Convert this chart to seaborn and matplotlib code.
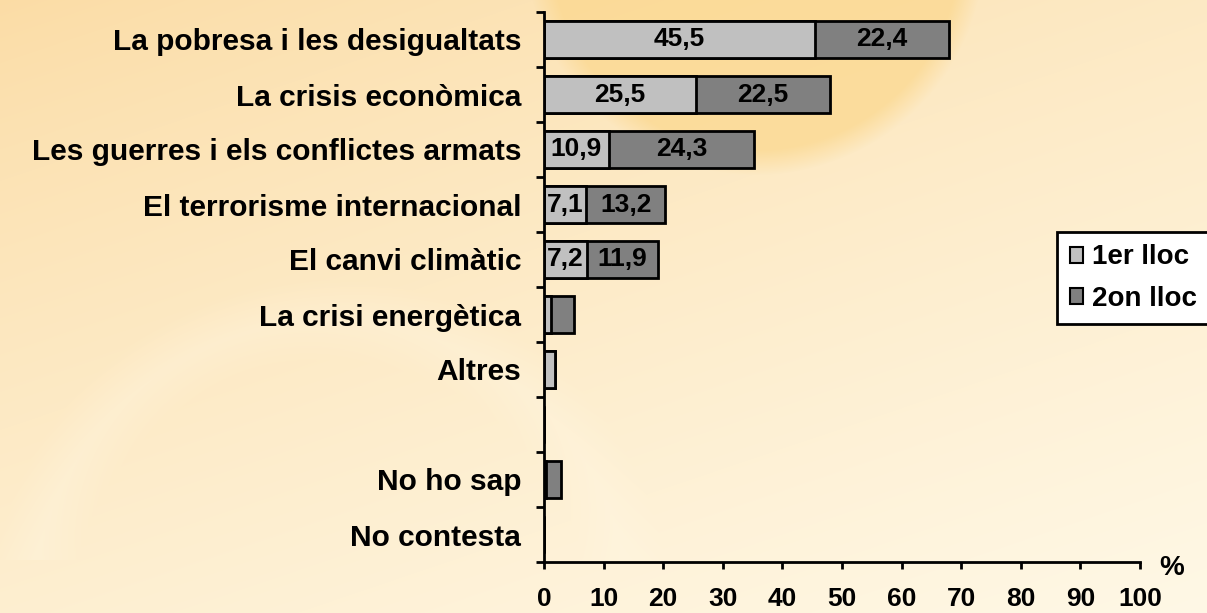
import numpy as np
import pandas as pd
import matplotlib
matplotlib.use("Agg")
import matplotlib.pyplot as plt
from matplotlib.patches import Patch
import seaborn as sns

# dades
categories = ["La pobresa i les desigualtats", "La crisis econòmica",
              "Les guerres i els conflictes armats", "El terrorisme internacional",
              "El canvi climàtic", "La crisi energètica", "Altres", " ",
              "No ho sap", "No contesta"]
primer = [45.5, 25.5, 10.9, 7.1, 7.2, 1.1, 1.8, 0, 0.3, 0]
segon = [22.4, 22.5, 24.3, 13.2, 11.9, 4.0, 0, 0, 2.5, 0]
series_names = ["1er lloc", "2on lloc"]
xticks = [0, 10, 20, 30, 40, 50, 60, 70, 80, 90, 100]

df = pd.DataFrame({"cat": categories, "primer": primer, "segon": segon})
df["total"] = df["primer"] + df["segon"]

sns.set_style("white")
plt.rcParams["font.family"] = ["Liberation Sans", "DejaVu Sans"]
plt.rcParams["font.weight"] = "bold"
plt.rcParams["text.color"] = "black"
plt.rcParams["xtick.color"] = "black"
plt.rcParams["ytick.color"] = "black"

fig = plt.figure(figsize=(12.07, 6.13), dpi=100)

# fons degradat
bg = fig.add_axes([0, 0, 1, 1], zorder=-1)
h, w = 613, 1207
yy, xx = np.mgrid[0:h, 0:w]
t = np.clip(0.6 * yy / h + 0.4 * xx / w, 0, 1) ** 0.8
c1 = np.array([251, 220, 165]) / 255
c2 = np.array([255, 248, 230]) / 255
img = c1[None, None, :] * (1 - t[..., None]) + c2[None, None, :] * t[..., None]
d = np.sqrt((xx - 755) ** 2 + (yy + 55) ** 2)
blob = np.clip((230 - d) / 25, 0, 1)[..., None]
orange = np.array([251, 215, 140]) / 255
img = img * (1 - 0.7 * blob) + orange * 0.7 * blob
d2 = np.sqrt((xx - 330) ** 2 + (yy - 620) ** 2)
arc = np.clip(1 - np.abs(d2 - 300) / 40, 0, 1)[..., None] * (yy < 560)[..., None]
img = img * (1 - 0.3 * arc) + 0.3 * arc * np.array([1.0, 0.97, 0.9])
bg.imshow(img, aspect="auto", extent=[0, 1, 0, 1])
bg.axis("off")

ax = fig.add_axes([544 / 1207, 1 - 562 / 613, (1140 - 544) / 1207, (562 - 12) / 613])
ax.patch.set_alpha(0)

sns.barplot(data=df, y="cat", x="total", order=categories, color="#808080",
            edgecolor="black", linewidth=2, width=0.67, ax=ax, saturation=1)
sns.barplot(data=df, y="cat", x="primer", order=categories, color="#C0C0C0",
            edgecolor="black", linewidth=2, width=0.67, ax=ax, saturation=1)

for i, (a, b) in enumerate(zip(primer, segon)):
    if a > 5:
        ax.text(a / 2, i, f"{a:.1f}".replace(".", ","), ha="center", va="center",
                fontsize=19, fontweight="bold")
    if b > 5:
        ax.text(a + b / 2, i, f"{b:.1f}".replace(".", ","), ha="center", va="center",
                fontsize=19, fontweight="bold")

ax.set_xlim(0, 100)
ax.set_ylim(len(categories) - 0.5, -0.5)
ax.set_xticks(xticks)
ax.set_xticklabels([str(v) for v in xticks], fontsize=19, fontweight="bold")
ax.set_yticks(range(len(categories)))
ax.set_yticklabels(categories, fontsize=21.5, fontweight="bold")
ax.set_yticks(np.arange(-0.5, len(categories), 1), minor=True)
ax.tick_params(axis="y", which="major", left=True, length=0, pad=16.5)
ax.tick_params(axis="y", which="minor", left=True, length=6, width=2, direction="out")
ax.tick_params(axis="x", which="major", bottom=True, length=5, width=2, direction="out", pad=13)
ax.set_xlabel("")
ax.set_ylabel("")
for s in ["top", "right"]:
    ax.spines[s].set_visible(False)
for s in ["left", "bottom"]:
    ax.spines[s].set_linewidth(2)
    ax.spines[s].set_color("black")

fig.text(1172 / 1207, 1 - 568 / 613, "%", fontsize=20, fontweight="bold", ha="center", va="center")

handles = [Patch(facecolor="#C0C0C0", edgecolor="black", linewidth=1.5),
           Patch(facecolor="#808080", edgecolor="black", linewidth=1.5)]
leg = ax.legend(handles, series_names, loc="upper left",
                bbox_to_anchor=(1057 / 1207, 1 - 232 / 613), bbox_transform=fig.transFigure,
                fontsize=20, frameon=True, fancybox=False, framealpha=1,
                handlelength=0.5, handleheight=0.5, handletextpad=0.3,
                labelspacing=0.55, borderpad=0.45, borderaxespad=0)
leg.get_frame().set_edgecolor("black")
leg.get_frame().set_linewidth(2)
for t_ in leg.get_texts():
    t_.set_fontweight("bold")

fig.savefig("out.png", dpi=100)
